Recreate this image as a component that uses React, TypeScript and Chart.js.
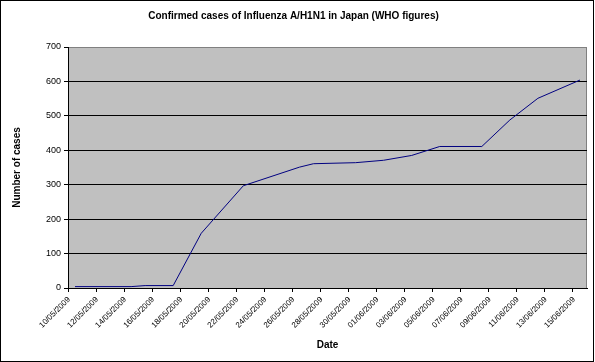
import React, { useEffect, useRef } from "react";
import { Chart, registerables } from "chart.js";

Chart.register(...registerables);

const chartTitle = "Confirmed cases of Influenza A/H1N1 in Japan (WHO figures)";
const xTitle = "Date";
const yTitle = "Number of cases";

const dates: string[] = [
  "10/05/2009", "11/05/2009", "12/05/2009", "13/05/2009", "14/05/2009", "15/05/2009",
  "16/05/2009", "17/05/2009", "18/05/2009", "19/05/2009", "20/05/2009", "21/05/2009",
  "22/05/2009", "23/05/2009", "24/05/2009", "25/05/2009", "26/05/2009", "27/05/2009",
  "28/05/2009", "29/05/2009", "30/05/2009", "31/05/2009", "01/06/2009", "02/06/2009",
  "03/06/2009", "04/06/2009", "05/06/2009", "06/06/2009", "07/06/2009", "08/06/2009",
  "09/06/2009", "10/06/2009", "11/06/2009", "12/06/2009", "13/06/2009", "14/06/2009",
  "15/06/2009",
];

const cases: (number | null)[] = [
  4, null, null, null, 4, 7,
  null, 7, null, 159, null, null,
  297, null, null, null, 351, 361,
  null, null, 364, null, 371, null,
  385, null, 411, null, null, 411,
  null, 488, null, 551, null, null,
  604,
];

const yMin = 0;
const yMax = 700;
const yStep = 100;

const FONT = "'Liberation Sans', Arial, sans-serif";

const framePlugin = {
  id: "frame",
  beforeDraw(chart: any) {
    const { ctx, chartArea } = chart;
    const { left, top, right, bottom } = chartArea;
    ctx.save();
    ctx.fillStyle = "#ffffff";
    ctx.fillRect(0, 0, chart.width, chart.height);
    ctx.fillStyle = "#c0c0c0";
    ctx.fillRect(left, top, right - left, bottom - top);
    ctx.strokeStyle = "#808080";
    ctx.lineWidth = 1;
    ctx.strokeRect(Math.round(left) + 0.5, Math.round(top) + 0.5, Math.round(right - left) - 1, Math.round(bottom - top));
    ctx.restore();
  },
  afterDraw(chart: any) {
    const { ctx } = chart;
    ctx.save();
    ctx.strokeStyle = "#000000";
    ctx.lineWidth = 1;
    ctx.strokeRect(0.5, 0.5, 593, 361);
    ctx.restore();
  },
};

export default function App() {
  const ref = useRef<HTMLCanvasElement | null>(null);

  useEffect(() => {
    if (!ref.current) return;
    const chart = new Chart(ref.current, {
      type: "line",
      data: {
        labels: dates,
        datasets: [
          {
            data: cases,
            borderColor: "#000080",
            borderWidth: 1,
            pointRadius: 0,
            tension: 0,
            spanGaps: true,
            fill: false,
          },
        ],
      },
      options: {
        animation: false,
        responsive: false,
        devicePixelRatio: 1,
        layout: { padding: { left: 0, right: 8, top: 0, bottom: 0 } },
        plugins: {
          legend: { display: false },
          tooltip: { enabled: false },
          title: {
            display: true,
            text: chartTitle,
            color: "#000",
            font: { family: FONT, size: 10, weight: "bold" },
            padding: { top: 10, bottom: 25 },
          },
        },
        scales: {
          x: {
            type: "category",
            offset: true,
            afterFit(scale: any) {
              scale.height = 74;
            },
            grid: {
              display: true,
              offset: true,
              drawOnChartArea: false,
              drawTicks: true,
              tickLength: 4,
              tickColor: (ctx: any) => (typeof ctx.index === "number" && ctx.index % 2 === 0 ? "#000" : "rgba(0,0,0,0)"),
            },
            border: { display: true, color: "#000", width: 1 },
            ticks: {
              autoSkip: false,
              maxRotation: 45,
              minRotation: 45,
              padding: 3,
              labelOffset: -6,
              color: "#000",
              font: { family: FONT, size: 8 },
              callback: (_v: any, i: number) => (i % 2 === 0 ? dates[i] : ""),
            },
            title: {
              display: true,
              text: xTitle,
              color: "#000",
              font: { family: FONT, size: 10, weight: "bold" },
              padding: { top: 0, bottom: 11 },
            },
          },
          y: {
            min: yMin,
            max: yMax,
            afterFit(scale: any) {
              scale.width = 68;
            },
            grid: {
              color: (ctx: any) => (ctx.tick && ctx.tick.value === yMax ? "rgba(0,0,0,0)" : "#000"),
              tickColor: "#000",
              tickLength: 4,
              lineWidth: 1,
            },
            border: { display: true, color: "#000", width: 1 },
            ticks: {
              stepSize: yStep,
              padding: 3,
              color: "#000",
              font: { family: FONT, size: 9 },
            },
            title: {
              display: true,
              text: yTitle,
              color: "#000",
              font: { family: FONT, size: 10, weight: "bold" },
              padding: { top: 11, bottom: 0 },
            },
          },
        },
      },
      plugins: [framePlugin],
    });
    return () => chart.destroy();
  }, []);

  return (
    <div style={{ position: "fixed", left: 0, top: 0, width: 595, height: 362 }}>
      <canvas ref={ref} width={595} height={362} style={{ display: "block" }} />
    </div>
  );
}
